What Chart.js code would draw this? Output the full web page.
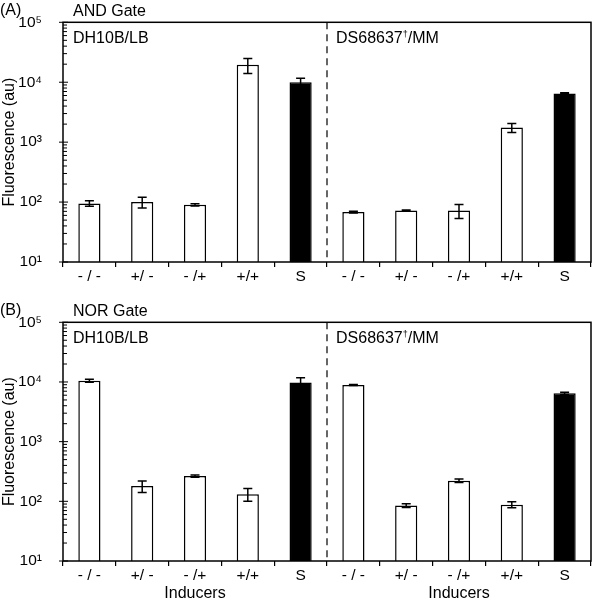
<!DOCTYPE html>
<html>
<head>
<meta charset="utf-8">
<script src="https://cdn.jsdelivr.net/npm/chart.js@4/dist/chart.umd.min.js"></script>
<style>
body { margin: 0; background: #fff; }
#wrap { position: relative; width: 593px; height: 600px; }
.panel { position: absolute; left: 0; width: 593px; height: 300px; }
</style>
</head>
<body>
<div id="wrap">
  <div class="panel" style="top:0"><canvas id="andChart" width="593" height="300"></canvas></div>
  <div class="panel" style="top:300px"><canvas id="norChart" width="593" height="300"></canvas></div>
</div>
<script>
// data (au, log scale)
var inducers = ['- / -', '+/ -', '- /+', '+/+', 'S'];
var strains = ['DH10B/LB', 'DS68637\u2020/MM'];
var yTicks = [10, 100, 1000, 10000, 100000];

var andMean = [95, 100, 90, 19500, 10000, 68, 72, 72, 1750, 6500];
var andErr  = [10, 20, 4, 5500, 1700, 2, 2, 19, 300, 200];

var norMean = [10500, 180, 265, 132, 9800, 8900, 85, 221, 88, 6450];
var norErr  = [600, 40, 12, 32, 2000, 150, 6, 15, 10, 300];

var labels = inducers.concat(inducers);
var FONT = "'Liberation Sans', Arial, sans-serif";
var sup = {1: '\u00b9', 2: '\u00b2', 3: '\u00b3', 4: '\u2074', 5: '\u2075'};

var decorPlugin = {
  id: 'decor',
  afterDatasetsDraw: function(chart, args, opts) {
    var ctx = chart.ctx, a = chart.chartArea;
    var xs = chart.scales.x, ys = chart.scales.y;
    var ds = chart.data.datasets[0];
    var meta = chart.getDatasetMeta(0);
    ctx.save();
    ctx.strokeStyle = '#000';
    ctx.fillStyle = '#000';
    ctx.lineWidth = 1.5;

    // error bars
    meta.data.forEach(function(bar, i) {
      var m = ds.data[i], e = opts.errors[i];
      var yt = ys.getPixelForValue(m + e);
      var yb = ys.getPixelForValue(Math.max(m - e, 10));
      ctx.beginPath();
      ctx.moveTo(bar.x, yt); ctx.lineTo(bar.x, yb);
      ctx.moveTo(bar.x - 4.5, yt); ctx.lineTo(bar.x + 4.5, yt);
      ctx.moveTo(bar.x - 4.5, yb); ctx.lineTo(bar.x + 4.5, yb);
      ctx.stroke();
    });

    // frame
    ctx.strokeRect(a.left, a.top, a.right - a.left, a.bottom - a.top);

    // log ticks on the y axis
    ctx.lineWidth = 1;
    ctx.beginPath();
    yTicks.forEach(function(dec, k) {
      var y = ys.getPixelForValue(dec);
      ctx.moveTo(a.left - 4, y); ctx.lineTo(a.left + 5, y);
      if (k == yTicks.length - 1) return;
      for (var m = 2; m <= 9; m++) {
        var ym = ys.getPixelForValue(m * dec);
        ctx.moveTo(a.left, ym); ctx.lineTo(a.left + 4, ym);
      }
    });
    ctx.stroke();

    // dashed divider between strains
    var xd = (xs.getPixelForValue(4) + xs.getPixelForValue(5)) / 2;
    ctx.lineWidth = 1.2;
    ctx.setLineDash([7, 5]);
    ctx.beginPath();
    ctx.moveTo(xd, a.top); ctx.lineTo(xd, a.bottom);
    ctx.stroke();
    ctx.setLineDash([]);

    // texts
    ctx.textBaseline = 'middle';
    ctx.textAlign = 'left';
    ctx.font = '16px ' + FONT;
    ctx.fillText(opts.letter, 0, a.top - 12);
    ctx.fillText(opts.gate, a.left + 10, a.top - 11);
    ctx.fillText(strains[0], a.left + 10, a.top + 16);

    var parts = strains[1].split('\u2020');
    var x = xd + 9, y = a.top + 16;
    ctx.fillText(parts[0], x, y);
    x += ctx.measureText(parts[0]).width;
    ctx.font = '9px ' + FONT;
    ctx.fillText('\u2020', x, y - 4);
    x += ctx.measureText('\u2020').width;
    ctx.font = '16px ' + FONT;
    ctx.fillText(parts[1], x, y);

    if (opts.xTitle) {
      ctx.textAlign = 'center';
      ctx.font = '16px ' + FONT;
      var c1 = (a.left + xd) / 2, c2 = (xd + a.right) / 2;
      ctx.fillText(opts.xTitle, c1, a.bottom + 33);
      ctx.fillText(opts.xTitle, c2, a.bottom + 33);
    }
    ctx.restore();
  }
};

function makeChart(id, means, errs, letter, gate, xTitle, padTop, xHeight) {
  var ctx = document.getElementById(id).getContext('2d');
  return new Chart(ctx, {
    type: 'bar',
    data: {
      labels: labels,
      datasets: [{
        data: means,
        backgroundColor: labels.map(function(l) { return l == 'S' ? '#000' : '#fff'; }),
        borderColor: '#000',
        borderWidth: 1.5,
        barPercentage: 0.42,
        categoryPercentage: 1
      }]
    },
    options: {
      responsive: false,
      animation: false,
      layout: { padding: { top: padTop, right: 2, bottom: 0, left: 0 } },
      plugins: {
        legend: { display: false },
        tooltip: { enabled: false },
        decor: { errors: errs, letter: letter, gate: gate, xTitle: xTitle }
      },
      scales: {
        x: {
          afterFit: function(s) { s.height = xHeight; },
          border: { display: false },
          grid: { display: true, offset: true, drawOnChartArea: false, drawTicks: true, tickLength: 5, color: '#000', lineWidth: 1.2 },
          ticks: { color: '#000', font: { family: FONT, size: 15.5 }, padding: 0, maxRotation: 0, autoSkip: false }
        },
        y: {
          type: 'logarithmic',
          min: 10,
          max: 100000,
          afterFit: function(s) { s.width = 63; },
          afterBuildTicks: function(s) { s.ticks = yTicks.map(function(v) { return { value: v }; }); },
          border: { display: false },
          grid: { display: false },
          ticks: {
            color: '#000',
            font: { family: FONT, size: 15.5 },
            padding: 13,
            callback: function(v) { return '10' + sup[Math.round(Math.log10(v))]; }
          },
          title: { display: true, text: 'Fluorescence (au)', color: '#000', font: { family: FONT, size: 16 }, padding: { top: 0, bottom: 0 } }
        }
      }
    },
    plugins: [decorPlugin]
  });
}

makeChart('andChart', andMean, andErr, '(A)', 'AND Gate', null, 18, 38);
makeChart('norChart', norMean, norErr, '(B)', 'NOR Gate', 'Inducers', 21, 39);
</script>
</body>
</html>
